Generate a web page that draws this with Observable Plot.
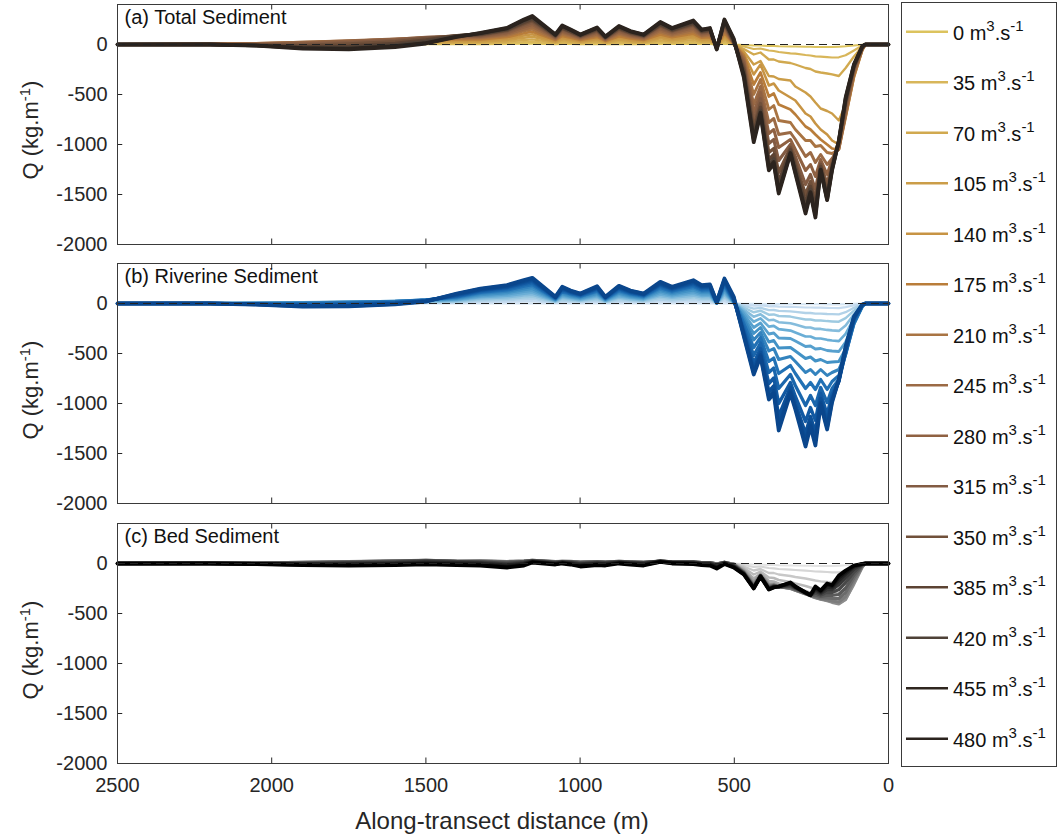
<!DOCTYPE html>
<html><head><meta charset="utf-8">
<script src="https://cdn.jsdelivr.net/npm/d3@7"></script>
<script src="https://cdn.jsdelivr.net/npm/@observablehq/plot@0.6"></script>
<style>
body{margin:0;background:#fff;}
#fig{position:relative;width:1059px;height:838px;overflow:hidden;background:#fff;}
#fig svg{position:absolute;left:0;}
</style></head><body><div id="fig"></div>
<script>
const discharges = [0,35,70,105,140,175,210,245,280,315,350,385,420,455,480];
const distance = [2500,2200,2050,1900,1750,1600,1500,1400,
  1323,1237,1182,1155,1080,1058,1031,999,945,918,874,837,794,740,702,633,606,579,557,532,502,
  469,437,415,388,372,356,318,302,269,253,237,220,199,183,161,139,112,85,75,40,0];
const xTicks = [2500,2000,1500,1000,500,0];
const yTicks = [0,-500,-1000,-1500,-2000];
const panelLabels = ["(a) Total Sediment","(b) Riverine Sediment","(c) Bed Sediment"];

const totalSediment = [
 [0,0,0,0,0,0,2,3, 3,5,8,9,3,6,5,3,5,2,6,4,3,7,5,7,5,5,0,8,0, -5,-10,-10,-15,-15,-18,-20,-20,-22,-22,-25,-25,-25,-25,-22,-18,-10,-3,0,0,0],
 [0,0,2,4,6,8,9,10, 12,17,25,29,10,19,15,10,17,8,19,14,10,23,17,24,15,17,-2,25,2, -20,-45,-40,-60,-65,-75,-88,-92,-105,-110,-118,-122,-126,-130,-128,-108,-60,-10,0,0,0],
 [0,2,4,8,12,16,18,20, 21,30,45,51,18,34,27,18,31,14,33,24,18,41,30,43,27,30,-4,45,3, -45,-100,-80,-150,-150,-170,-185,-200,-235,-245,-270,-280,-290,-298,-315,-235,-120,-20,0,0,0],
 [0,3,6,12,18,24,28,30, 31,45,68,77,27,51,41,27,46,22,50,36,27,61,45,65,41,45,-6,68,5, -70,-200,-165,-315,-320,-345,-360,-420,-480,-520,-580,-640,-665,-690,-760,-600,-300,-45,0,0,0],
 [0,4,8,16,24,32,38,40, 42,60,90,103,36,68,54,36,61,29,67,49,36,81,59,86,54,59,-8,90,6, -90,-300,-200,-410,-390,-460,-530,-560,-690,-720,-790,-850,-900,-960,-1000,-720,-330,-55,0,0,0],
 [0,5,10,20,30,42,50,50, 52,75,113,128,45,86,68,45,77,36,83,61,45,101,74,108,68,74,-10,113,8, -110,-400,-280,-520,-490,-600,-650,-700,-820,-850,-900,-950,-1000,-1040,-1050,-730,-320,-55,0,0,0],
 [0,5,12,24,36,50,60,60, 63,90,135,154,54,103,81,54,92,43,100,73,54,122,89,130,81,89,-12,135,10, -130,-500,-350,-650,-610,-760,-780,-850,-960,-960,-1020,-1010,-1080,-1090,-1050,-710,-300,-50,0,0,0],
 [0,5,10,22,38,55,68,70, 72,103,155,177,62,118,93,62,105,50,115,84,62,140,102,149,93,102,-15,155,12, -150,-600,-420,-780,-740,-900,-880,-950,-1120,-1080,-1180,-1100,-1200,-1140,-1040,-690,-280,-45,0,0,0],
 [0,3,5,15,32,52,72,80, 81,116,175,200,70,133,105,70,119,56,130,95,70,158,116,168,105,116,-20,175,15, -175,-680,-480,-890,-850,-1030,-950,-1050,-1260,-1200,-1320,-1150,-1300,-1150,-1020,-650,-260,-40,0,0,0],
 [0,2,0,5,20,42,70,85, 89,128,193,219,77,146,116,77,131,62,142,104,77,173,127,185,116,127,-25,193,20, -200,-760,-540,-990,-950,-1160,-1000,-1120,-1400,-1300,-1450,-1180,-1400,-1180,-1000,-620,-245,-35,0,0,0],
 [0,0,-5,-10,5,28,60,88, 96,138,208,237,83,158,125,83,141,66,154,112,83,187,137,199,125,137,-30,208,25, -230,-830,-590,-1080,-1040,-1280,-1030,-1180,-1500,-1370,-1550,-1200,-1460,-1200,-985,-590,-230,-30,0,0,0],
 [0,0,-8,-20,-15,10,45,88, 102,146,220,251,88,167,132,88,150,70,163,119,88,198,145,211,132,145,-35,220,30, -260,-880,-630,-1150,-1100,-1370,-1050,-1220,-1580,-1420,-1620,-1220,-1510,-1220,-975,-570,-220,-25,0,0,0],
 [0,0,-10,-30,-30,-5,30,85, 108,154,233,265,93,177,140,93,158,74,172,126,93,209,153,223,140,153,-40,233,40, -290,-920,-660,-1200,-1145,-1430,-1070,-1250,-1630,-1450,-1670,-1240,-1535,-1240,-968,-555,-210,-22,0,0,0],
 [0,0,-10,-35,-40,-15,15,80, 113,161,243,276,97,184,146,97,165,78,179,131,97,218,160,233,146,160,-45,243,50, -310,-950,-680,-1235,-1175,-1470,-1085,-1275,-1665,-1475,-1705,-1250,-1550,-1250,-962,-540,-205,-20,0,0,0],
 [0,0,-12,-40,-48,-25,10,75, 116,166,250,285,100,190,150,100,170,80,185,135,100,225,165,240,150,165,-50,250,60, -330,-977,-695,-1258,-1192,-1490,-1093,-1291,-1690,-1490,-1730,-1258,-1556,-1258,-960,-530,-199,-17,0,0,0]
];

const riverineSediment = [
 [0,0,0,0,0,0,0,0, 0,0,0,0,0,0,0,0,0,0,0,0,0,0,0,0,0,0,0,0,0, -2,-4,-4,-6,-5,-6,-7,-7,-8,-8,-8,-8,-9,-9,-9,-7,-4,-1,0,0,0],
 [0,0,1,2,3,4,5,7, 14,17,21,23,6,15,12,9,16,6,16,12,9,20,15,21,16,17,0,22,2, -10,-22,-18,-28,-27,-31,-33,-35,-40,-40,-42,-42,-44,-45,-46,-37,-18,-3,0,0,0],
 [0,1,2,4,6,8,10,14, 27,33,42,46,12,30,23,18,31,12,32,23,18,39,30,42,33,34,1,45,4, -24,-52,-43,-66,-65,-74,-78,-84,-95,-95,-101,-101,-105,-106,-108,-87,-43,-8,0,0,0],
 [0,1,3,6,9,12,15,21, 39,48,61,67,17,43,34,26,45,17,46,34,26,56,43,61,48,49,1,65,6, -40,-88,-72,-112,-109,-125,-131,-141,-160,-160,-170,-170,-176,-179,-182,-147,-72,-13,0,0,0],
 [0,2,4,8,12,16,20,28, 51,63,80,87,23,57,44,34,59,23,60,44,34,74,57,79,62,65,2,85,8, -60,-132,-108,-168,-163,-187,-197,-211,-240,-240,-254,-254,-264,-269,-274,-221,-108,-19,0,0,0],
 [0,2,5,10,15,20,25,35, 63,78,99,108,28,70,55,42,73,28,74,55,42,91,70,98,77,80,2,105,10, -83,-182,-149,-231,-224,-257,-271,-290,-330,-330,-350,-350,-363,-370,-376,-304,-149,-26,0,0,0],
 [0,2,5,10,16,23,30,42, 75,93,118,129,34,84,65,50,87,34,89,65,50,109,84,117,92,95,3,125,12, -105,-240,-195,-305,-295,-345,-350,-375,-430,-425,-455,-450,-470,-475,-480,-385,-180,-32,0,0,0],
 [0,2,4,8,15,24,34,50, 87,107,136,149,39,97,75,58,100,39,103,75,58,126,97,135,106,110,4,145,15, -135,-300,-240,-385,-370,-445,-440,-475,-550,-535,-575,-560,-590,-585,-580,-455,-200,-33,0,0,0],
 [0,1,2,4,12,22,36,58, 99,122,155,170,44,110,86,66,114,44,117,86,66,143,110,154,121,125,5,165,20, -165,-365,-290,-475,-450,-560,-530,-580,-690,-660,-710,-660,-720,-690,-660,-500,-205,-30,0,0,0],
 [0,0,-2,-2,6,18,36,65, 110,135,172,188,49,122,95,73,126,49,129,95,73,158,122,170,134,139,6,183,25, -200,-440,-340,-580,-545,-700,-620,-700,-850,-790,-860,-760,-860,-780,-720,-510,-195,-25,0,0,0],
 [0,0,-5,-10,-2,12,34,72, 120,148,188,206,54,134,104,80,138,54,142,104,80,174,134,186,146,152,8,200,30, -240,-520,-395,-690,-645,-850,-710,-820,-1020,-920,-1020,-840,-990,-850,-760,-500,-175,-20,0,0,0],
 [0,0,-7,-16,-10,5,30,80, 129,159,202,221,58,144,112,86,149,58,152,112,86,187,144,200,157,163,10,215,40, -275,-600,-450,-800,-745,-1000,-790,-930,-1180,-1040,-1170,-900,-1110,-910,-780,-480,-160,-16,0,0,0],
 [0,0,-8,-22,-18,0,26,88, 137,168,214,234,61,152,118,91,157,61,161,118,91,197,152,212,167,173,12,228,50, -300,-655,-490,-880,-825,-1130,-840,-1000,-1300,-1130,-1290,-950,-1190,-950,-775,-455,-145,-13,0,0,0],
 [0,0,-9,-26,-24,-5,22,95, 144,178,226,247,64,160,125,96,166,64,170,125,96,208,160,224,176,182,14,240,60, -318,-690,-515,-930,-875,-1220,-880,-1040,-1380,-1195,-1370,-990,-1240,-975,-765,-440,-135,-11,0,0,0],
 [0,0,-10,-30,-28,-8,18,100, 150,185,235,257,67,167,130,100,173,67,177,130,100,217,167,233,183,190,17,250,70, -330,-710,-530,-960,-900,-1270,-900,-1060,-1430,-1230,-1420,-1010,-1260,-990,-760,-430,-130,-10,0,0,0]
];

const bedSediment = [
 [0,0,0,0,0,0,1,2, 3,5,8,9,3,6,5,3,5,2,6,4,3,7,5,7,5,5,0,8,0, -5,-10,-10,-15,-15,-18,-20,-20,-22,-22,-25,-25,-25,-25,-22,-18,-10,-3,0,0,0],
 [0,0,1,2,3,4,5,6, 6,6,7,8,5,5,5,4,4,3,5,4,3,5,4,3,2,2,0,3,0, -15,-35,-30,-45,-48,-55,-62,-65,-72,-75,-80,-82,-85,-88,-88,-75,-42,-8,0,0,0],
 [0,1,2,4,6,8,9,10, 10,10,12,13,8,9,8,7,7,6,8,7,5,8,6,5,4,4,0,5,-1, -30,-70,-55,-95,-95,-110,-125,-135,-150,-160,-170,-178,-185,-190,-195,-170,-95,-18,0,0,0],
 [0,2,3,6,9,12,13,12, 15,15,17,19,12,13,12,10,11,9,12,10,8,12,9,8,6,6,0,7,-2, -45,-110,-80,-140,-145,-165,-185,-200,-225,-240,-255,-265,-275,-285,-295,-260,-150,-28,0,0,0],
 [0,2,4,8,12,16,18,15, 20,19,21,24,15,17,16,13,14,12,16,13,11,16,12,11,8,8,0,9,-3, -60,-150,-100,-175,-180,-200,-225,-245,-275,-295,-315,-330,-345,-355,-370,-330,-190,-35,0,0,0],
 [0,3,5,10,15,20,22,18, 24,22,24,28,18,20,19,15,17,15,19,15,13,19,15,13,10,10,-1,11,-4, -70,-180,-110,-200,-200,-220,-245,-265,-300,-320,-340,-355,-370,-385,-400,-360,-210,-38,0,0,0],
 [0,3,6,12,18,24,26,20, 26,22,26,30,20,22,21,16,19,16,21,17,14,22,17,15,11,11,-2,12,-6, -78,-200,-115,-215,-210,-230,-250,-270,-305,-325,-345,-360,-375,-390,-405,-360,-200,-35,0,0,0],
 [0,3,6,13,20,27,30,22, 26,20,26,32,20,24,22,15,20,16,22,18,14,24,18,16,11,11,-4,13,-8, -84,-212,-118,-225,-215,-233,-250,-268,-305,-325,-340,-355,-365,-375,-385,-330,-175,-30,0,0,0],
 [0,2,5,11,18,26,32,24, 24,16,24,32,18,22,20,12,18,15,22,17,13,25,18,16,10,10,-6,13,-10, -88,-222,-120,-232,-218,-234,-244,-262,-302,-322,-330,-345,-345,-350,-350,-290,-145,-25,0,0,0],
 [0,2,3,7,14,22,32,22, 20,10,20,30,14,20,18,8,16,12,20,15,10,25,17,15,8,8,-10,12,-15, -92,-230,-122,-240,-222,-233,-235,-255,-298,-320,-315,-330,-320,-320,-310,-245,-115,-18,0,0,0],
 [0,1,0,2,8,16,28,18, 15,2,15,28,10,18,14,2,12,8,18,12,6,24,15,13,4,4,-15,10,-20, -96,-236,-124,-246,-226,-232,-225,-248,-295,-318,-295,-315,-290,-290,-260,-190,-85,-12,0,0,0],
 [0,0,-2,-4,2,8,20,12, 8,-8,8,24,5,14,8,-5,6,2,14,8,2,22,12,10,0,0,-22,8,-25, -100,-240,-126,-250,-230,-231,-212,-242,-292,-316,-275,-300,-260,-260,-210,-140,-55,-8,0,0,0],
 [0,0,-3,-8,-6,0,10,5, 0,-18,0,20,0,10,2,-12,0,-5,10,2,-5,20,8,5,-5,-5,-30,5,-30, -104,-244,-128,-254,-234,-231,-203,-237,-291,-315,-258,-288,-235,-240,-170,-105,-35,-5,0,0,0],
 [0,0,-4,-12,-14,-8,0,-5, -10,-30,-10,15,-5,5,-5,-22,-8,-12,5,-5,-12,18,5,0,-10,-12,-40,0,-35, -107,-247,-129,-257,-237,-230,-196,-233,-290,-315,-243,-278,-215,-225,-140,-85,-25,-4,0,0,0],
 [0,0,-5,-15,-20,-15,-8,-15, -20,-40,-20,10,-10,0,-10,-30,-15,-20,0,-10,-20,15,0,-5,-15,-20,-50,-5,-40, -110,-250,-130,-260,-240,-230,-190,-230,-290,-315,-230,-270,-200,-215,-120,-70,-20,-3,0,0,0]
];

const brownColors = ["#dcc35e","#d8b65a","#d1a94f","#cb9d48","#c79444","#b97d3a","#a97443","#9b6a45","#8f6142","#825b43","#70503a","#5c4333","#4e4137","#2f261f","#2b231e"];
const blueColors = ["#d6e6f4","#c6dbef","#b2d2e8","#9ecae1","#85bcdc","#6aaed6","#57a0ce","#4292c6","#3383be","#2171b5","#1a66ac","#1259a2","#0d5098","#0b4a90","#0a468c"];
const greyColors = ["#e3e3e3","#d6d6d6","#c8c8c8","#bababa","#ababab","#9c9c9c","#8c8c8c","#7c7c7c","#6b6b6b","#5a5a5a","#484848","#363636","#252525","#151515","#000000"];

const FONT = '"Liberation Sans", Arial, Helvetica, sans-serif';
const TEXT = "#262626";
const xDomain = [2500, 0];
const yDomain = [-2000, 400];
const fig = document.getElementById("fig");

function panel(series, colors, label, showX, top) {
  const lines = series.map((vals, i) =>
    Plot.line(distance.map((d, j) => ({d, q: vals[j]})),
      {x: "d", y: "q", stroke: colors[i], strokeWidth: 2.1 + i * 0.12}));
  const svg = Plot.plot({
    width: 900, height: showX ? 319 : 250,
    marginTop: 4, marginBottom: showX ? 75 : 6, marginLeft: 117, marginRight: 12,
    style: {fontFamily: FONT, fontSize: "20px", color: TEXT, background: "transparent", overflow: "visible"},
    x: {domain: xDomain, ticks: xTicks, tickFormat: d => String(d), tickSize: 0, tickPadding: 14, label: null, axis: showX ? "bottom" : null},
    y: {domain: yDomain, ticks: yTicks, tickFormat: d => String(d), tickSize: 0, tickPadding: 10, label: null},
    marks: [
      ...lines,
      Plot.ruleY([0], {stroke: "#222", strokeWidth: 1.2, strokeDasharray: "8,5"}),
      Plot.ruleX(xTicks, {x: d => d, y1: yDomain[0], y2: yDomain[0] + 55, stroke: TEXT}),
      Plot.ruleX(xTicks, {x: d => d, y1: yDomain[1], y2: yDomain[1] - 55, stroke: TEXT}),
      Plot.ruleY(yTicks, {y: d => d, x1: xDomain[0], x2: xDomain[0] - 17, stroke: TEXT}),
      Plot.ruleY(yTicks, {y: d => d, x1: xDomain[1], x2: xDomain[1] + 17, stroke: TEXT}),
      Plot.frame({stroke: "#3a3a3a", strokeWidth: 1}),
      Plot.text([label], {text: d => d, frameAnchor: "top-left", dx: 7, dy: 5, fontSize: 20, fill: "#111"})
    ]
  });
  svg.style.top = top + "px";
  fig.appendChild(svg);
}

panel(totalSediment, brownColors, panelLabels[0], false, 0);
panel(riverineSediment, blueColors, panelLabels[1], false, 259);
panel(bedSediment, greyColors, panelLabels[2], true, 519);

// overlay: axis titles and legend
const ov = d3.select(fig).append("svg")
  .attr("width", 1059).attr("height", 838)
  .style("top", "0px").style("pointer-events", "none")
  .attr("font-family", FONT).attr("fill", TEXT);

[124, 384, 644].forEach(cy => {
  const t = ov.append("text").attr("transform", `translate(38,${cy + 6}) rotate(-90)`)
    .attr("text-anchor", "middle").attr("font-size", 22);
  t.append("tspan").text("Q (kg.m");
  t.append("tspan").attr("dy", -8).attr("font-size", 15).text("-1");
  t.append("tspan").attr("dy", 8).text(")");
});

ov.append("text").attr("x", 502).attr("y", 829).attr("text-anchor", "middle")
  .attr("font-size", 24).text("Along-transect distance (m)");

const lg = ov.append("g").attr("transform", "translate(900,0)");
lg.append("rect").attr("x", 1.5).attr("y", 2.5).attr("width", 155).attr("height", 764)
  .attr("fill", "white").attr("stroke", "#3a3a3a").attr("stroke-width", 1);
discharges.forEach((q, i) => {
  const y = 31.7 + i * 50.5;
  lg.append("line").attr("x1", 6).attr("x2", 48).attr("y1", y).attr("y2", y)
    .attr("stroke", brownColors[i]).attr("stroke-width", 2.5);
  const t = lg.append("text").attr("x", 53).attr("y", y + 8).attr("font-size", 20).attr("fill", "#111");
  t.append("tspan").text(q + " m");
  t.append("tspan").attr("dy", -9).attr("font-size", 15).text("3");
  t.append("tspan").attr("dy", 9).text(".s");
  t.append("tspan").attr("dy", -9).attr("font-size", 15).text("-1");
});
</script></body></html>
